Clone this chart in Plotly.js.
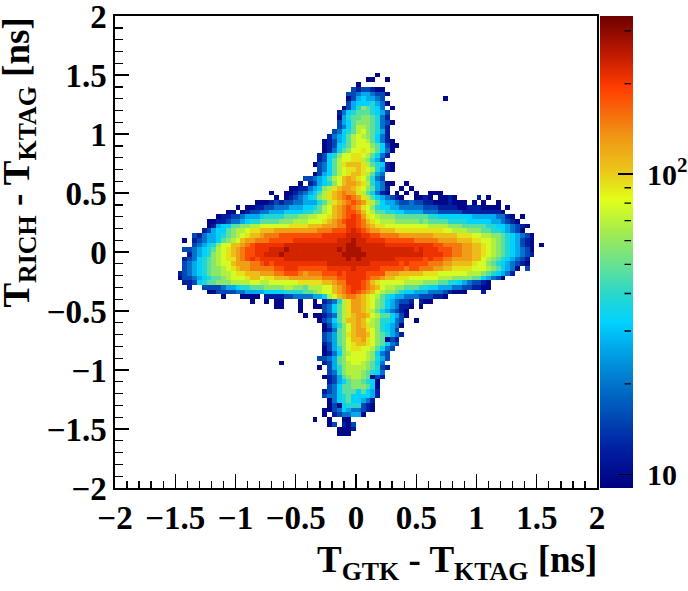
<!DOCTYPE html>
<html>
<head>
<meta charset="utf-8">
<script src="https://cdn.plot.ly/plotly-3.0.1.min.js"></script>
<style>
html, body { margin: 0; padding: 0; background: #fff; }
#chart { width: 688px; height: 591px; }
</style>
</head>
<body>
<div id="chart"></div>
<script>
var levelKeys = 'abcdefghijklmnopqrs';
var levelCounts = [9.6, 12, 15.4, 19.9, 26.6, 31.9, 38.3, 47.6, 58, 68, 78, 92, 108, 128, 150, 182, 208, 232, 272];

var binWidth = 0.04;
var firstCol = 10;
var topRow = 87;

// one string per row of bins, top row first; '.' is an empty bin, groups of ten columns
var rowCells = [
'.......... .......... .......... .......... ....a.....',
'.......... .......... .......... .......... ..aa..a...',
'.......... .......... .......... .......... a.........',
'.......... .......... .......... .........c bccbaa....',
'.......... .......... .......... ........cc deedcca...',
'.......... .......... .......... ........ac efeedc.... ........a.',
'.......... .......... .......... ........ce fffgeda...',
'.......... .......... .......... .......ace gihgfd.a..',
'.......... .......... .......... ......bdfg hhhgfec...',
'.......... .......... .......... ......aegh hiihgdb...',
'.......... .......... .......... ......cefh iiihgdca..',
'.......... .......... .......... ......cdfh jjihgdb...',
'.......... .......... .......... .....cdfgh jkihgeb...',
'.......... .......... .......... ....bdefhj kjihfdb...',
'.......... .......... .......... ...abcefhj kkjhfdba..',
'.......... .......... .......... ...abcfghj kkkihfcaa.',
'.......... .......... .......... ...abdfhik klkjhfda..',
'.......... .......... .......... ..bcfgikkl lkjhfdb...',
'.......... .......... .......... ..bcfhjkkl ljigec....',
'.......... .......... .......... .acdfhjlmm mljhgfba..',
'.......... .......... .......... ..cdfhjkll mlkjgeba..',
'.......... .......... .......... .acefhjklm mljhed....',
'.......... .......... .........c cdefhjkmnm lkigdc....',
'.......... .......... ........a. bcefgikmnn mljgedaa.. a.........',
'.......... .......... ......aabb defijlmnnm lkihedb..a .a........',
'.......... .......... ..a..aabcd efhjlmnonn ljhfdba.a. a.a..aaa..',
'.......... .......... ...a.abcde fgijlmnopo nljhfedcba ..aaba.aab a....b.a..',
'.......... .........a aabcbccdde eeghjlmnop onljhfeedc cdccbbaaab aaa.a.a..a',
'.......... .....a.aab bccdddeeef fghjkmnopo nlkigffeed ddddcccbbb baabbbaaaa .a........',
'.......... ...aa.abcc ddeeeffffg ghhjkmnopp omkjhhggff eeeedddccc ccbbbbbbbb a.........',
'.......... .abbccdeee fgggghhhii jjkklmnopq pnlkjiiihh hhhhhggfff ffffeeeeed dba.a.....',
'.........a abbcddefgg hhhhiiijjj kkklmnopqq pomlkjjjii iiihihhhhg gggfffffee dcba......',
'.........a beffhhiijj kkkkkkllll mmmnnnooqq ponmllkkkk kkkkkjjjji iihhhhhggf fedcba....',
'........bc effhijjkll mmmnnnnnnn nnooopppqr qponnmmmll llllllllkk jjjiiihhgg fedca.....',
'......cbde efghijklmm nooopppppp pppqqqqqrr rqqppoooon nnnnnnmmmm mlllkkjjii hgfedca...',
'....a.bcde efhijkmnno oopppppqqq qqqqqqrrrs rrqqqqpppp ppooooonnn nmmmllkkji hgfecba...',
'......cdef gikkmmnopq qqqqqrrrrr rrrrrrrrss rrrrrrqqqq qqqqqqppoo oonnmmlkji hgfecba.a.',
'....ccdefg hjklmnoppq qqrrrsrrrr rrrrrrsrss srrrrrrrrr rrqrqqqppp oonnmmlkji hgfedca...',
'.....bdefg ijklmnoppq qrrrsrrrrr rrrrrrrsss ssrrrrrrrr rrrrqqqqpp oonnmmlkji hgfedcb...',
'....bcdfgh ijkllnopqp qqqqqrrrrr rrrrrrrrsr srrrrrrrqq qqqqpqppoo nnnnmmkjih gfedcb....',
'....cdefgh ijkkmnnnoo pqpqqqqqqq qqqqrrrrrr rrrqqqqqqp qppppooonn mmmmlkkihg fedcba....',
'....cdefgh iijklmnnoo oooppqqqpp ppppqqqqqr qqqqqppppp oppooonnmm llllkkkjih feda.c....',
'...bcdefgh iijjkllmmm nnnoopppon ooopppqpqq qqppppnnnm mmmmlllkkk kkkjjjihgf edb.......',
'...accdefg hhijkkklmm kllmmmnnnn nnnoooppqq qqpoonmmll lkkkkkkjjj iiiihhfedc a.........',
'....bbcfgh hiiijjjjkk jjkkkkkkll lllmmnooqq qpomlkkkkk jjjjiiihhg gfedccba..',
'.....b..cc ccdeefgghh hiiiijjiih jjjkkmnopq qponmkjjii hhhggffeee ddccbbaa..',
'.........a accccddeee effffggggh hijkkmnopq ponmkjiihg ffeeedddcb aaa...b...',
'.......... ..a...aaaa .bbbbccddd deefjkmnoo nmlkjhgfee dddcccbba.',
'.......... ........a. .a.aa...a. .a.bcdgjln nmlkihfedc cb.baa....',
'.......... .......... ...aa...a. .aacdfhjln nmlkihfedb ba.a......',
'.......... .......... ........a. ...cdfhjln nmljhfedcb a.........',
'.......... .......... .........a .aabcdhjlm nnmkjhhfec a.........',
'.......... .......... .......... ..acdfhjmm nmkjiggfdc ..a.......',
'.......... .......... .......... ...acegikm nmljigfeda',
'.......... .......... .......... ...abdhikm nnlkigfec.',
'.......... .......... .......... ...cdehilm nnmkihgedb',
'.......... .......... .......... ...cdehikm mnlkihacb.',
'.......... .......... .......... ...bcehikl mmlkihfdc.',
'.......... .......... .......... ...acegikl lkkjhfdc..',
'.......... .......... .......... ...abdfijk kkjifdc...',
'.......... .......... .......... ..ccdehikk kkjigec...',
'.......... .......... ....a..... ...bcehijk kjihfd....',
'.......... .......... .......... ..a.cegijj jjihgcb...',
'.......... .......... .......... ....cdgijj jihgfd....',
'.......... .......... .......... ...abcehij jihacb....',
'.......... .......... .......... ....bcefhi ihgfa.....',
'.......... .......... .......... ....cdfhhi iihfa.....',
'.......... .......... .......... ...bcdfhhh fhfeb.....',
'.......... .......... .......... ...cddfghf fffeb.....',
'.......... .......... .......... ....adfghf fedb......',
'.......... .......... .......... ....acafgg gcba......',
'.......... .......... .......... ...aacdfed dcba......',
'.......... .......... .......... ...a.bcdde ea........',
'.......... .......... .......... .a..a..aa.',
'.......... .......... .......... ....ac.bac',
'.......... .......... .......... ......aaab',
'.......... .......... .......... ......aaa.'
];

var minorTickCounts = [20, 30, 40, 50, 60, 70, 80, 90, 200, 300];
var majorTickCounts = [10, 100];
var majorTickLabels = ['\u00a010', '\u00a010<sup>2</sup>'];
var countMin = 9, countMax = 336;

var axisTicks = [-2, -1.5, -1, -0.5, 0, 0.5, 1, 1.5, 2];

var colours = [
  [0, 'rgb(0,0,130)'], [0.08, 'rgb(0,30,160)'], [0.21, 'rgb(0,110,200)'],
  [0.3, 'rgb(0,170,235)'], [0.35, 'rgb(0,210,255)'], [0.41, 'rgb(40,215,205)'],
  [0.47, 'rgb(100,225,150)'], [0.54, 'rgb(160,235,80)'], [0.61, 'rgb(225,255,25)'],
  [0.67, 'rgb(235,200,25)'], [0.745, 'rgb(240,150,20)'], [0.85, 'rgb(255,60,0)'],
  [0.92, 'rgb(190,25,0)'], [1, 'rgb(110,0,0)']
];

var font = 'Liberation Serif, Times New Roman, serif';

// build the 100x100 grid
var z = [];
var i, j;
for (j = 0; j < 100; j++) {
  z.push(new Array(100).fill(null));
}
rowCells.forEach(function (row, r) {
  var cells = row.replace(/ /g, '');
  for (i = 0; i < cells.length; i++) {
    var k = levelKeys.indexOf(cells[i]);
    if (k >= 0) z[topRow - r][firstCol + i] = Math.log10(levelCounts[k]);
  }
});

var zMin = Math.log10(countMin), zMax = Math.log10(countMax);

var trace = {
  type: 'heatmap',
  z: z,
  x0: -2 + binWidth / 2,
  dx: binWidth,
  y0: -2 + binWidth / 2,
  dy: binWidth,
  zmin: zMin,
  zmax: zMax,
  zsmooth: false,
  colorscale: colours,
  hoverongaps: false,
  colorbar: {
    x: 1.006,
    xanchor: 'left',
    xpad: 0,
    ypad: 0,
    y: 0,
    yanchor: 'bottom',
    len: 1,
    thickness: 33,
    outlinewidth: 0,
    borderwidth: 0,
    tickmode: 'array',
    tickvals: majorTickCounts.map(Math.log10),
    ticktext: majorTickLabels,
    ticks: 'inside',
    ticklen: 15,
    tickwidth: 1.3,
    tickcolor: '#000',
    tickfont: { family: font, size: 30, color: '#000', weight: 'bold' }
  }
};

function axis() {
  return {
    range: [-2, 2],
    tickmode: 'array',
    tickvals: axisTicks,
    ticks: 'inside',
    ticklen: 14,
    tickwidth: 1.4,
    tickcolor: '#000',
    ticklabeloverflow: 'allow',
    showgrid: false,
    zeroline: false,
    showline: true,
    linecolor: '#000',
    linewidth: 1.6,
    mirror: true,
    tickfont: { family: font, size: 33, color: '#000', weight: 'bold' },
    minor: { dtick: 0.1, ticks: 'inside', ticklen: 7.5, tickwidth: 1.4, tickcolor: '#000', showgrid: false }
  };
}

// short ticks of the colour bar, drawn over the bar itself
var shortTicks = minorTickCounts.map(function (c) {
  return {
    xref: 'paper', yref: 'paper',
    x: 1.0705,
    y: (Math.log10(c) - zMin) / (zMax - zMin),
    text: '',
    showarrow: true,
    arrowhead: 0,
    arrowwidth: 1.3,
    arrowcolor: '#000',
    standoff: 0,
    ax: -8,
    ay: 0
  };
});

var layout = {
  width: 688,
  height: 591,
  margin: { l: 115, r: 91, t: 16, b: 103, autoexpand: false },
  paper_bgcolor: '#fff',
  plot_bgcolor: '#fff',
  xaxis: axis(),
  yaxis: axis(),
  annotations: shortTicks.concat([
    {
      xref: 'paper', yref: 'paper', x: 1.004, y: -0.157, xanchor: 'right', yanchor: 'middle',
      text: '<b>T<sub>GTK</sub> - T<sub>KTAG</sub> [ns]</b>',
      showarrow: false,
      font: { family: font, size: 37, color: '#000' }
    },
    {
      xref: 'paper', yref: 'paper', x: -0.2, y: 1, xanchor: 'center', yanchor: 'top',
      text: '<b>T<sub>RICH</sub> - T<sub>KTAG</sub> [ns]</b>',
      textangle: -90,
      showarrow: false,
      font: { family: font, size: 37, color: '#000' }
    }
  ])
};

Plotly.newPlot('chart', [trace], layout, { displayModeBar: false, staticPlot: true });
</script>
</body>
</html>
